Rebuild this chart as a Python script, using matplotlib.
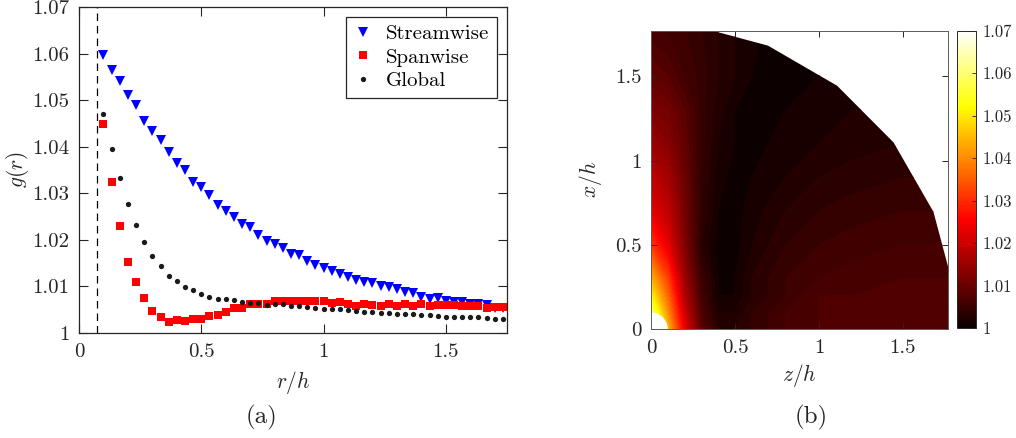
import numpy as np
import matplotlib
matplotlib.use('Agg')
import matplotlib.pyplot as plt
from matplotlib.patches import Polygon, Circle

plt.rcParams['font.family'] = 'serif'
plt.rcParams['font.serif'] = ['cmr10']
plt.rcParams['mathtext.fontset'] = 'cm'
plt.rcParams['axes.formatter.use_mathtext'] = True

# radial bins of the pair correlation (r/h)
r = np.linspace(0.1, 0.1 + 49 / 30, 50)

g_stream = [1.0598, 1.0564, 1.0541, 1.0511, 1.0489, 1.0456, 1.0433, 1.0415, 1.0388, 1.0366,
            1.0350, 1.0325, 1.0313, 1.0296, 1.0275, 1.0262, 1.0250, 1.0234, 1.0227, 1.0210,
            1.0197, 1.0192, 1.0182, 1.0170, 1.0168, 1.0154, 1.0146, 1.0140, 1.0133, 1.0127,
            1.0121, 1.0114, 1.0110, 1.0107, 1.0101, 1.0098, 1.0094, 1.0087, 1.0085, 1.0078,
            1.0073, 1.0076, 1.0069, 1.0067, 1.0067, 1.0063, 1.0063, 1.0060, 1.0053, 1.0053]

g_span = [1.0448, 1.0325, 1.0230, 1.0153, 1.0109, 1.0075, 1.0048, 1.0034, 1.0024, 1.0028,
          1.0026, 1.0029, 1.0031, 1.0037, 1.0039, 1.0046, 1.0053, 1.0053, 1.0062, 1.0062,
          1.0062, 1.0069, 1.0069, 1.0068, 1.0069, 1.0068, 1.0068, 1.0068, 1.0064, 1.0066,
          1.0062, 1.0059, 1.0062, 1.0060, 1.0059, 1.0062, 1.0058, 1.0062, 1.0059, 1.0062,
          1.0059, 1.0060, 1.0060, 1.0060, 1.0059, 1.0058, 1.0058, 1.0054, 1.0056, 1.0056]

g_global = [1.0471, 1.0396, 1.0332, 1.0277, 1.0232, 1.0195, 1.0165, 1.0143, 1.0122, 1.0112,
            1.0099, 1.0092, 1.0083, 1.0078, 1.0074, 1.0072, 1.0070, 1.0066, 1.0065, 1.0065,
            1.0061, 1.0063, 1.0062, 1.0059, 1.0059, 1.0055, 1.0054, 1.0052, 1.0052, 1.0051,
            1.0049, 1.0047, 1.0045, 1.0045, 1.0044, 1.0044, 1.0041, 1.0041, 1.0040, 1.0038,
            1.0038, 1.0036, 1.0035, 1.0035, 1.0035, 1.0034, 1.0034, 1.0033, 1.0031, 1.0029]

r_cut = 0.075

# 2D map g(z, x): rows are x/h, columns are z/h
z_map = [0, 0.1, 0.2, 0.3, 0.4, 0.5, 0.6, 0.8, 1.0, 1.2, 1.5, 1.8]
x_map = [0, 0.1, 0.2, 0.3, 0.5, 0.7, 0.9, 1.1, 1.3, 1.5, 1.8]
g_map = [
    [1.065, 1.045, 1.023, 1.008, 1.003, 1.003, 1.004, 1.006, 1.007, 1.007, 1.007, 1.007],
    [1.060, 1.040, 1.020, 1.007, 1.002, 1.002, 1.004, 1.006, 1.007, 1.007, 1.007, 1.007],
    [1.051, 1.036, 1.017, 1.006, 1.001, 1.001, 1.003, 1.005, 1.007, 1.007, 1.007, 1.007],
    [1.044, 1.032, 1.015, 1.005, 1.001, 1.001, 1.003, 1.005, 1.006, 1.0065, 1.007, 1.007],
    [1.031, 1.023, 1.012, 1.003, 1.0005, 1.0005, 1.002, 1.004, 1.005, 1.0055, 1.006, 1.006],
    [1.023, 1.019, 1.011, 1.004, 1.001, 1.0005, 1.0015, 1.003, 1.004, 1.0045, 1.005, 1.005],
    [1.019, 1.016, 1.010, 1.004, 1.0015, 1.0005, 1.001, 1.002, 1.003, 1.0035, 1.004, 1.004],
    [1.015, 1.013, 1.009, 1.0045, 1.002, 1.001, 1.0005, 1.0015, 1.002, 1.0025, 1.003, 1.003],
    [1.012, 1.011, 1.008, 1.0045, 1.0025, 1.001, 1.0005, 1.001, 1.0015, 1.002, 1.002, 1.002],
    [1.009, 1.008, 1.006, 1.0045, 1.003, 1.002, 1.001, 1.0005, 1.001, 1.0012, 1.0012, 1.0012],
    [1.006, 1.0055, 1.005, 1.004, 1.003, 1.002, 1.0012, 1.0005, 1.0005, 1.0008, 1.001, 1.001],
]

# angular bin centres of the outer edge of the map (degrees) and its radius
edge_angles = [0, 7.5, 22.5, 37.5, 52.5, 67.5, 82.5, 90]
edge_radius = 1.82
inner_radius = 0.1

g_ticks = [1, 1.01, 1.02, 1.03, 1.04, 1.05, 1.06, 1.07]
g_ticklabels = ['1', '1.01', '1.02', '1.03', '1.04', '1.05', '1.06', '1.07']
rh_ticks = [0, 0.5, 1, 1.5]
rh_ticklabels = ['0', '0.5', '1', '1.5']

axcol = '#262626'

fig = plt.figure(figsize=(10.16, 4.38), dpi=100)

# ---- (a) g(r) along the three directions ----
ax = fig.add_axes([79 / 1016, 1 - 333 / 438, 428 / 1016, 326 / 438])
ax.plot(r, g_stream, 'v', color=(0, 0, 1), ms=7, mew=0, label='Streamwise')
ax.plot(r, g_span, 's', color=(1, 0, 0), ms=5.5, mew=0, label='Spanwise')
ax.plot(r, g_global, 'o', color='#1a1a1a', ms=3.8, mew=0, label='Global')
ax.axvline(r_cut, color='k', lw=0.9, ls=(0, (6, 4)))
ax.set_xlim(0, 1.75)
ax.set_ylim(1, 1.07)
ax.set_yticks(g_ticks)
ax.set_yticklabels(g_ticklabels)
ax.set_xticks(rh_ticks)
ax.set_xticklabels(rh_ticklabels)
ax.tick_params(direction='in', top=True, right=True, length=6.5, width=0.8,
               labelsize=15, colors=axcol, pad=7)
for s in ax.spines.values():
    s.set_color(axcol)
    s.set_linewidth(0.9)
ax.set_xlabel(r'$r/h$', fontsize=15.5, color=axcol, labelpad=6)
ax.set_ylabel(r'$g(r)$', fontsize=15.5, color=axcol, labelpad=1)
leg = ax.legend(loc='upper right', bbox_to_anchor=(1 - 10 / 428, 1 - 10 / 326),
                borderaxespad=0, fontsize=15, fancybox=False, framealpha=1,
                edgecolor=axcol, handlelength=1.0, handletextpad=0.6,
                labelspacing=0.25, borderpad=0.35, numpoints=1)
leg.get_frame().set_linewidth(0.9)
fig.text(262 / 1016, 1 - 417 / 438, '(a)', fontsize=18, ha='center', va='center',
         color=axcol)

# ---- (b) g over the (z, x) plane ----
bx = fig.add_axes([651 / 1016, 1 - 329.3 / 438, 297.3 / 1016, 298.6 / 438])
levels = np.arange(1.0, 1.0705, 0.001)
cs = bx.contourf(z_map, x_map, np.array(g_map), levels=levels, cmap='hot',
                 vmin=1.0, vmax=1.07, extend='both')
th = np.deg2rad(edge_angles)
verts = [(0, 0)] + [(edge_radius * np.cos(t), edge_radius * np.sin(t)) for t in th]
domain = Polygon(verts, closed=True, facecolor='none', edgecolor='none',
                 transform=bx.transData)
bx.add_patch(domain)
cs.set_clip_path(domain)
bx.add_patch(Circle((0, 0), inner_radius, facecolor='white', edgecolor='none',
                    zorder=2))
bx.set_xlim(0, 1.77)
bx.set_ylim(0, 1.77)
bx.set_xticks(rh_ticks)
bx.set_xticklabels(rh_ticklabels)
bx.set_yticks(rh_ticks)
bx.set_yticklabels(rh_ticklabels)
bx.tick_params(direction='in', top=True, right=True, length=4.5, width=0.7,
               labelsize=15, colors=axcol, pad=7)
for s in bx.spines.values():
    s.set_color('#5a5a5a')
    s.set_linewidth(0.7)
bx.set_xlabel(r'$z/h$', fontsize=15.5, color=axcol, labelpad=4)
bx.set_ylabel(r'$x/h$', fontsize=15.5, color=axcol, labelpad=8)

cax = fig.add_axes([957.3 / 1016, 1 - 328.3 / 438, 18.4 / 1016, 297.6 / 438])
sm = plt.cm.ScalarMappable(cmap='hot', norm=plt.Normalize(1.0, 1.07))
cb = fig.colorbar(sm, cax=cax)
cb.set_ticks(g_ticks)
cb.set_ticklabels(g_ticklabels)
cax.tick_params(direction='in', length=3, width=0.6, labelsize=12, colors=axcol, pad=5)
cb.outline.set_edgecolor(axcol)
cb.outline.set_linewidth(0.7)
fig.text(811 / 1016, 1 - 417 / 438, '(b)', fontsize=18, ha='center', va='center',
         color=axcol)

fig.savefig('out.png', dpi=100)
